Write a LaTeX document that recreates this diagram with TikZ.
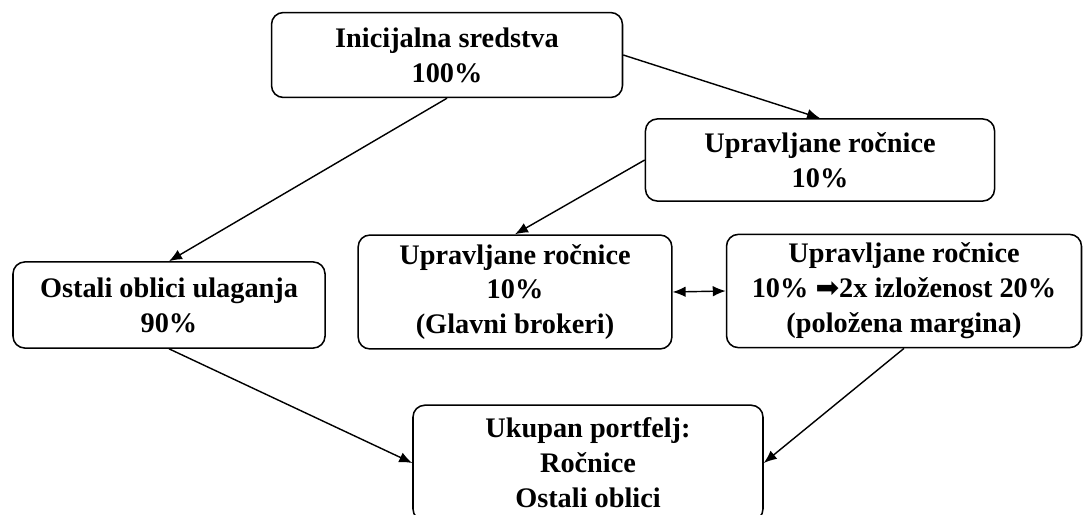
\documentclass[tikz,border=0pt]{standalone}
\usepackage{fontspec}
\setmainfont{Liberation Serif}
\newfontfamily\strelica{DejaVu Sans}
\usetikzlibrary{shapes,arrows,arrows.meta,positioning}

\begin{document}
\begin{tikzpicture}[x=0.424pt,y=-0.424pt,
	kutija/.style={draw=black,rounded corners=5pt,line width=0.65pt,align=center,inner sep=0pt,font=\bfseries\fontsize{12}{14.8}\selectfont},
	veza/.style={line width=0.6pt,-{Latex[length=5.5pt,width=4.5pt]}}]
	\useasboundingbox (0,0) rectangle (1083,515);
	%% the boxes
	\node[kutija,minimum width=148.8pt,minimum height=36pt] (pocetna) at (447,55) {Inicijalna sredstva\\100\%};
	\node[kutija,minimum width=148pt,minimum height=34.8pt] (upravljane) at (820,160) {Upravljane ročnice\\10\%};
	\node[kutija,minimum width=132.3pt,minimum height=36.5pt] (ostali) at (169,305) {Ostali oblici ulaganja\\90\%};
	\node[kutija,minimum width=133pt,minimum height=48.3pt] (brokeri) at (515,292) {Upravljane ročnice\\10\%\\(Glavni brokeri)};
	\node[kutija,minimum width=150.5pt,minimum height=48pt] (margina) at (904,291) {Upravljane ročnice\\10\% {\strelica\mdseries ➡}2x izloženost 20\%\\(položena margina)};
	\node[kutija,minimum width=148.4pt,minimum height=49pt] (portfelj) at (588,463) {Ukupan portfelj:\\Ročnice\\Ostali oblici};
	%% the arrows
	\draw[veza] (pocetna.south) -- (ostali.north);
	\draw[veza] (pocetna.east) -- (upravljane.north);
	\draw[veza] (upravljane.west) -- (brokeri.north);
	\draw[veza,{Latex[length=5.5pt,width=4.5pt]}-{Latex[length=5.5pt,width=4.5pt]}] (brokeri.east) -- (margina.west);
	\draw[veza] (ostali.south) -- (portfelj.west);
	\draw[veza] (margina.south) -- (portfelj.east);
\end{tikzpicture}
\end{document}
